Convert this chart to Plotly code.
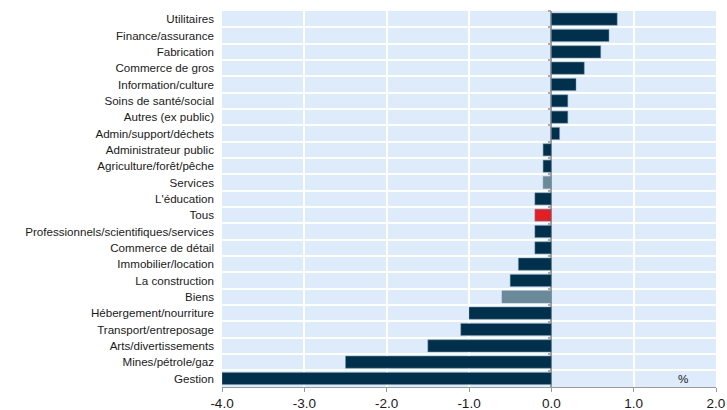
import plotly.graph_objects as go

categories = ["Utilitaires", "Finance/assurance", "Fabrication", "Commerce de gros",
              "Information/culture", "Soins de santé/social", "Autres (ex public)",
              "Admin/support/déchets", "Administrateur public", "Agriculture/forêt/pêche",
              "Services", "L'éducation", "Tous", "Professionnels/scientifiques/services",
              "Commerce de détail", "Immobilier/location", "La construction", "Biens",
              "Hébergement/nourriture", "Transport/entreposage", "Arts/divertissements",
              "Mines/pétrole/gaz", "Gestion"]
values = [0.8, 0.7, 0.6, 0.4, 0.3, 0.2, 0.2, 0.1, -0.1, -0.1, -0.1, -0.2, -0.2, -0.2,
          -0.2, -0.4, -0.5, -0.6, -1.0, -1.1, -1.5, -2.5, -4.0]
x_tickvals = [-4, -3, -2, -1, 0, 1, 2]
x_ticktext = ["-4.0", "-3.0", "-2.0", "-1.0", "0.0", "1.0", "2.0"]

NAVY = "#00304C"
GREY = "#6A8A9A"
RED = "#E31E24"
colors = []
for c in categories:
    if c == "Tous":
        colors.append(RED)
    elif c in ("Services", "Biens"):
        colors.append(GREY)
    else:
        colors.append(NAVY)

fig = go.Figure()
fig.add_trace(go.Bar(
    x=values, y=categories, orientation="h",
    marker=dict(color=colors, line=dict(color="rgba(120,150,170,0.6)", width=0.8)),
    width=0.74, hoverinfo="x+y",
))
# invisible companion trace to carry the tick marks along the zero line
fig.add_trace(go.Bar(
    x=values, y=categories, orientation="h", yaxis="y2",
    marker=dict(color="rgba(0,0,0,0)", line=dict(width=0)), width=0.74,
    hoverinfo="skip", showlegend=False,
))

fig.update_layout(
    width=727, height=410,
    margin=dict(l=222, r=11, t=11, b=23, autoexpand=False),
    plot_bgcolor="#DDEBFB", paper_bgcolor="white",
    showlegend=False, barmode="overlay",
    font=dict(family="Arial, Liberation Sans, sans-serif", color="#1a1a1a", size=11.6),
    xaxis=dict(
        range=[-4, 2], tickvals=x_tickvals, ticktext=x_ticktext,
        showgrid=True, gridcolor="white", gridwidth=1.5,
        zeroline=True, zerolinecolor="#9A9A9A", zerolinewidth=1.5,
        showline=True, linecolor="#9A9A9A", linewidth=1,
        ticks="outside", ticklen=4, tickcolor="#9A9A9A",
        tickfont=dict(size=13.5, color="#1a1a1a"), automargin=False,
    ),
    yaxis=dict(
        type="category", categoryorder="array", categoryarray=categories,
        autorange="reversed", tickson="boundaries",
        showgrid=True, gridcolor="white", gridwidth=1.5,
        ticks="", showline=False, automargin=False,
        tickfont=dict(size=11.6, color="#1a1a1a"), ticklabelstandoff=7,
    ),
    yaxis2=dict(
        type="category", categoryorder="array", categoryarray=categories,
        autorange="reversed", overlaying="y", anchor="free", position=4/6,
        side="left", showticklabels=False, showgrid=False, showline=False,
        tickson="boundaries", ticks="outside", ticklen=3, tickcolor="#A8A8A8",
        tickwidth=1.5, automargin=False,
    ),
    annotations=[dict(x=1.6, y=categories[-1], xref="x", yref="y", text="%",
                      showarrow=False, font=dict(size=11.6, color="#1a1a1a"))],
)

fig.write_html("out.html", config={"displayModeBar": False},
               post_script="document.body.style.margin='0';document.body.style.overflow='hidden';")
